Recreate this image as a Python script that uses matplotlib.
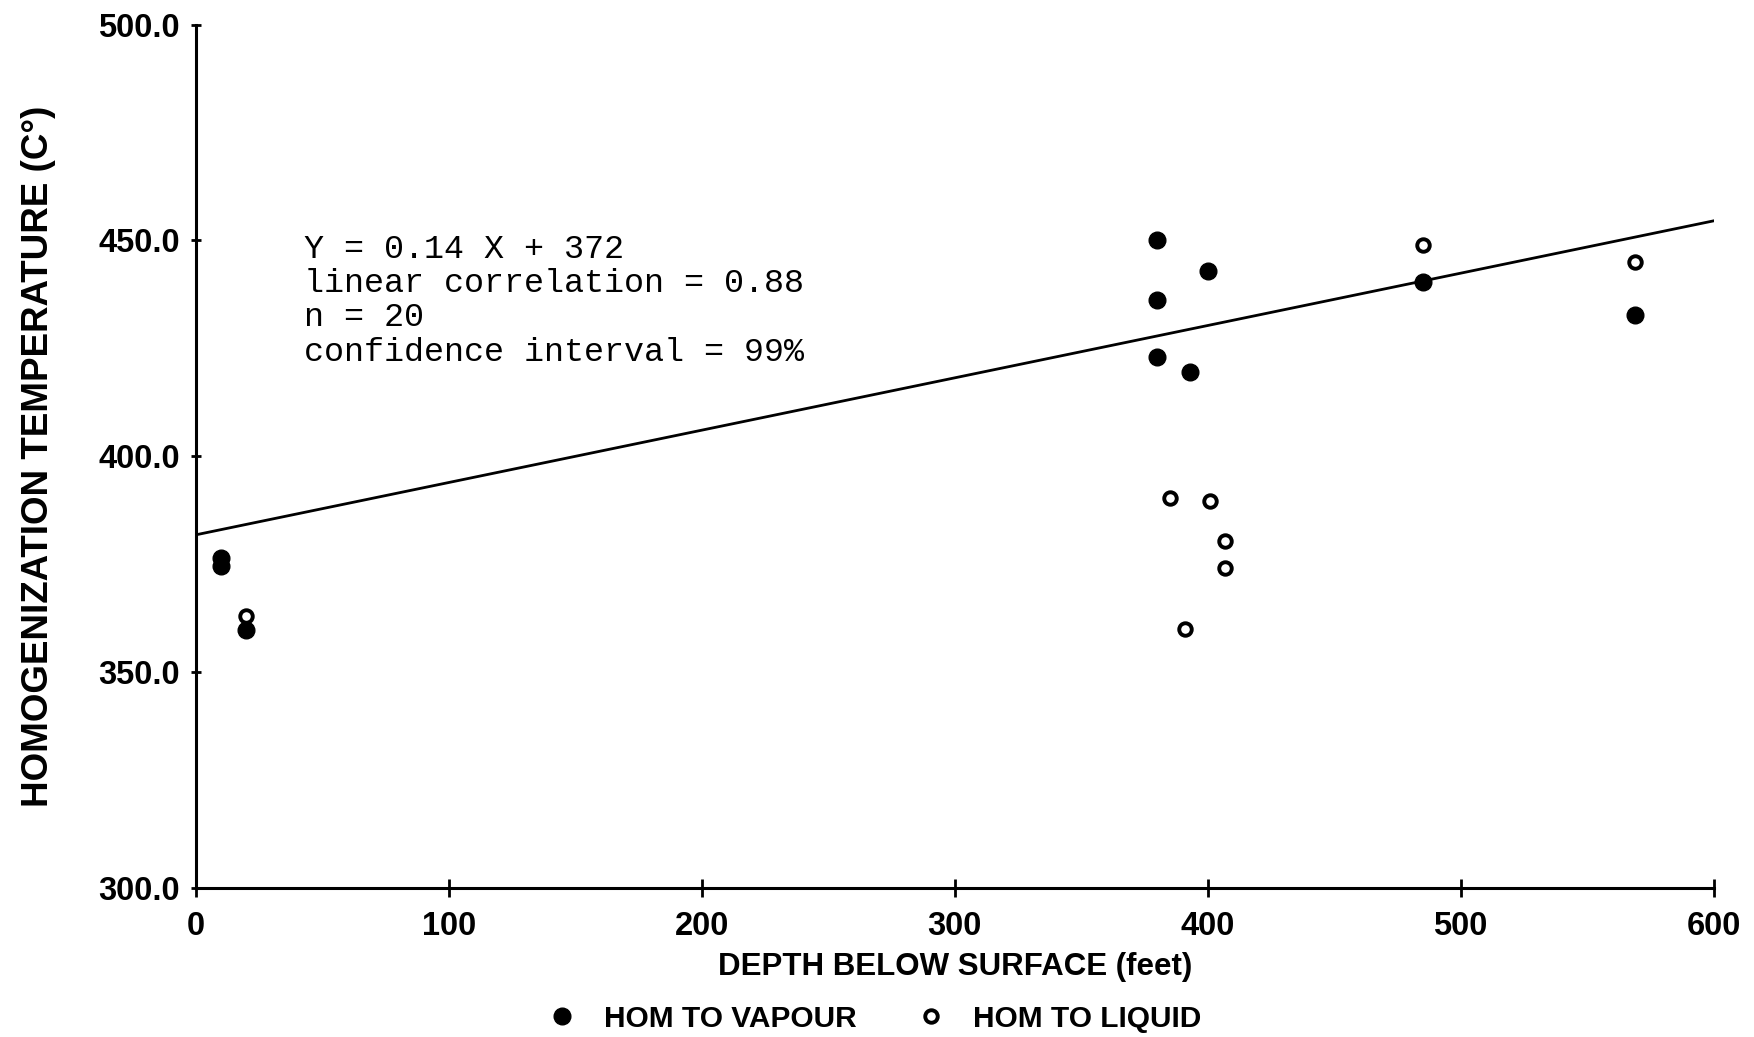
import matplotlib
matplotlib.use("Agg")
import matplotlib.pyplot as plt
from matplotlib.lines import Line2D

# homogenization temperatures vs depth
vapour_depth = [10, 10, 20, 380, 400, 380, 380, 393, 485, 569]
vapour_temp = [376.5, 374.5, 359.7, 450.2, 442.9, 436.2, 422.9, 419.6, 440.4, 432.7]

liquid_depth = [20, 385, 401, 407, 407, 391, 485, 569]
liquid_temp = [363.0, 390.4, 389.6, 380.4, 374.2, 360.0, 448.9, 445.0]

# regression line as drawn on the plot
fit_x = [0, 603]
fit_y = [381.8, 454.9]

x_ticks = [0, 100, 200, 300, 400, 500, 600]
y_ticks = [300.0, 350.0, 400.0, 450.0, 500.0]

stats_text = ("Y = 0.14 X + 372\n"
              "linear correlation = 0.88\n"
              "n = 20\n"
              "confidence interval = 99%")

label_font = ["Liberation Sans", "DejaVu Sans"]

fig = plt.figure(figsize=(17.54, 10.37), dpi=100)
ax = fig.add_axes([0.1116, 0.1437, 0.8654, 0.8326])

ax.plot(fit_x, fit_y, color="black", lw=2.0, solid_capstyle="butt")
ax.plot(vapour_depth, vapour_temp, ls="none", marker="o", ms=12,
        mfc="black", mec="black", mew=1.0)
ax.plot(liquid_depth, liquid_temp, ls="none", marker="o", ms=9.0,
        mfc="white", mec="black", mew=2.8)

ax.set_xlim(0, 600)
ax.set_ylim(300, 500)
ax.set_xticks(x_ticks)
ax.set_yticks(y_ticks)
ax.set_xticklabels([str(v) for v in x_ticks])
ax.set_yticklabels(["%.1f" % v for v in y_ticks])

for side in ["top", "right"]:
    ax.spines[side].set_visible(False)
for side in ["left", "bottom"]:
    ax.spines[side].set_linewidth(2.2)

ax.tick_params(axis="x", direction="inout", length=13, width=2.0, pad=10)
ax.tick_params(axis="y", direction="inout", length=7, width=2.0, pad=8)
for lab in ax.get_xticklabels() + ax.get_yticklabels():
    lab.set_family(label_font)
    lab.set_fontsize(23.5)
    lab.set_fontweight("bold")

ax.set_xlabel("DEPTH BELOW SURFACE (feet)", family=label_font,
              fontsize=22.5, fontweight="bold", labelpad=7)
ax.set_ylabel("HOMOGENIZATION TEMPERATURE (C\u00b0)", family=label_font,
              fontsize=26.5, fontweight="bold", labelpad=30)

ax.text(0.0713, 0.758, stats_text, transform=ax.transAxes,
        family=["Liberation Mono", "DejaVu Sans Mono"], fontsize=24,
        va="top", ha="left", linespacing=1.14)

handles = [
    Line2D([], [], ls="none", marker="o", ms=12, mfc="black", mec="black"),
    Line2D([], [], ls="none", marker="o", ms=9.0, mfc="white", mec="black", mew=2.8),
]
fig.legend(handles, ["HOM TO VAPOUR", "HOM TO LIQUID"], loc="lower center",
           bbox_to_anchor=(0.4985, 0.004), ncol=2, frameon=False,
           borderpad=0.0, borderaxespad=0.0,
           handlelength=1.0, handletextpad=0.9, columnspacing=2.0,
           prop={"family": label_font, "size": 21.5, "weight": "bold"})

fig.savefig("out.png", dpi=100, facecolor="white")
